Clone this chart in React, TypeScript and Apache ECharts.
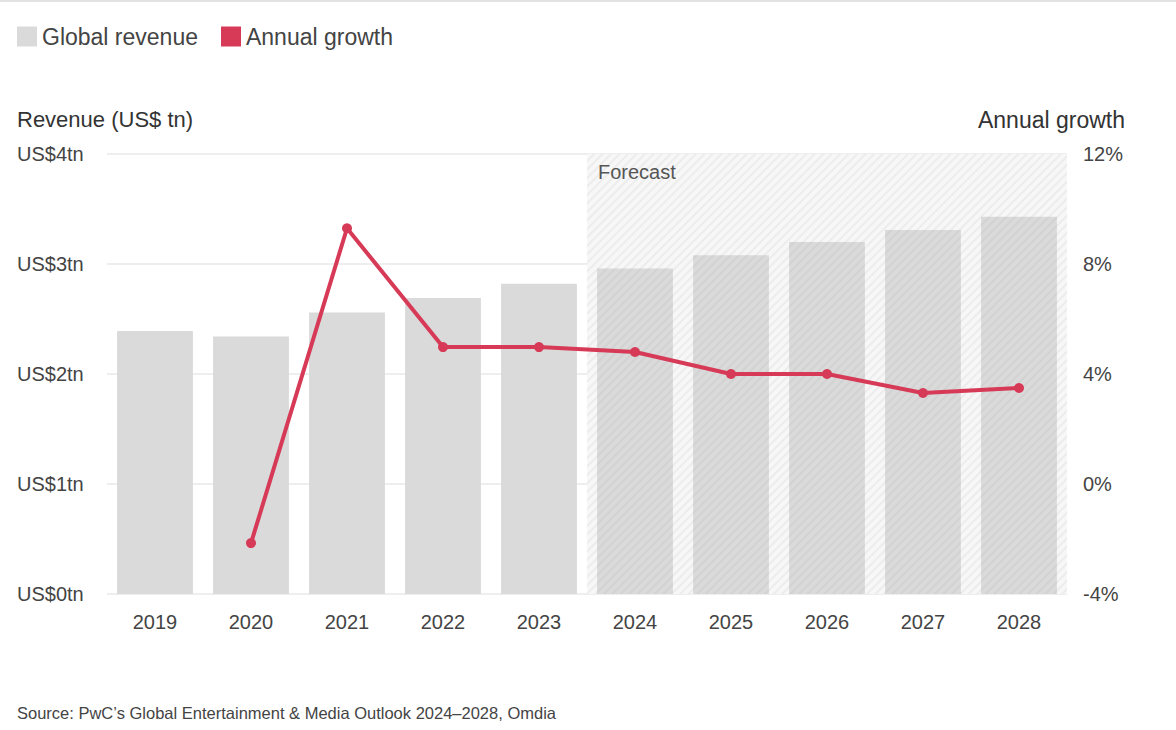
import React, { useEffect, useRef } from "react";
import * as echarts from "echarts";

const years = ["2019", "2020", "2021", "2022", "2023", "2024", "2025", "2026", "2027", "2028"];
const revenue = [2.39, 2.34, 2.56, 2.69, 2.82, 2.96, 3.08, 3.2, 3.31, 3.43];
const growth: (number | null)[] = [null, -2.15, 9.3, 4.98, 4.98, 4.8, 4.0, 4.0, 3.31, 3.49];
const forecastFlags = [false, false, false, false, false, true, true, true, true, true];
const leftTicks = ["US$0tn", "US$1tn", "US$2tn", "US$3tn", "US$4tn"];

const FONT = "'Liberation Sans', Arial, Helvetica, sans-serif";
const RED = "#d63a56";
const GREY = "#dadada";

export default function App() {
  const ref = useRef<HTMLDivElement>(null);
  useEffect(() => {
    document.body.style.margin = "0";
    const chart = echarts.init(ref.current!, null, { renderer: "svg" });
    const hatch = (color: string) => ({
      symbol: "rect",
      symbolSize: 1,
      color,
      dashArrayX: [[1, 0]],
      dashArrayY: [1.5, 3.5],
      rotation: -Math.PI / 4,
    });
    chart.setOption({
      animation: false,
      textStyle: { fontFamily: FONT },
      legend: {
        data: ["Global revenue", "Annual growth"],
        left: 17,
        top: 25,
        padding: 0,
        icon: "rect",
        itemWidth: 20,
        itemHeight: 20,
        itemGap: 23,
        textStyle: { fontSize: 23, color: "#444", fontFamily: FONT },
        selectedMode: false,
      },
      grid: { left: 107, right: 109, top: 154, bottom: 136 },
      xAxis: [
        {
          type: "category",
          data: years,
          axisLine: { show: false },
          axisTick: { show: false },
          axisLabel: { fontSize: 20, color: "#444", margin: 18, fontFamily: FONT },
        },
        {
          type: "category",
          data: years,
          show: false,
        },
      ],
      yAxis: [
        {
          type: "value",
          min: 0,
          max: 4,
          interval: 1,
          axisLine: { show: false },
          axisTick: { show: false },
          splitLine: { lineStyle: { color: "#e8e8e8", width: 1.5 } },
          axisLabel: {
            fontSize: 20,
            color: "#444",
            align: "left",
            margin: 90,
            fontFamily: FONT,
            formatter: (v: number) => leftTicks[Math.round(v)] ?? "",
          },
        },
        {
          type: "value",
          min: -4,
          max: 12,
          interval: 4,
          axisLine: { show: false },
          axisTick: { show: false },
          splitLine: { show: false },
          axisLabel: {
            fontSize: 20,
            color: "#444",
            margin: 16,
            align: "left",
            fontFamily: FONT,
            formatter: (v: number) => `${v}%`,
          },
        },
      ],
      series: [
        {
          name: "forecastShade",
          type: "bar",
          xAxisIndex: 1,
          yAxisIndex: 0,
          barCategoryGap: "0%",
          silent: true,
          z: 1,
          data: forecastFlags.map((f) => (f ? 4 : null)),
          itemStyle: { color: "#f7f7f7", decal: hatch("rgba(0,0,0,0.045)") },
        },
        {
          name: "Global revenue",
          type: "bar",
          xAxisIndex: 0,
          yAxisIndex: 0,
          barCategoryGap: "21%",
          z: 2,
          itemStyle: { color: GREY },
          data: revenue.map((v, i) =>
            forecastFlags[i]
              ? { value: v, itemStyle: { color: GREY, decal: hatch("rgba(0,0,0,0.035)") } }
              : { value: v }
          ),
        },
        {
          name: "Annual growth",
          type: "line",
          xAxisIndex: 0,
          yAxisIndex: 1,
          z: 5,
          data: growth,
          symbol: "circle",
          symbolSize: 10,
          connectNulls: false,
          lineStyle: { color: RED, width: 4 },
          itemStyle: { color: RED },
        },
      ],
      graphic: [
        { type: "rect", left: 0, top: 0, shape: { width: 1176, height: 2 }, style: { fill: "#e2e2e2" } },
        {
          type: "text",
          left: 17,
          top: 108,
          style: { text: "Revenue (US$ tn)", font: `22px ${FONT}`, fill: "#333" },
        },
        {
          type: "text",
          right: 51,
          top: 108,
          style: { text: "Annual growth", font: `23px ${FONT}`, fill: "#333" },
        },
        {
          type: "text",
          left: 598,
          top: 162,
          z: 10,
          style: { text: "Forecast", font: `20px ${FONT}`, fill: "#555" },
        },
        {
          type: "text",
          left: 17,
          top: 704,
          style: {
            text: "Source: PwC\u2019s Global Entertainment & Media Outlook 2024\u20132028, Omdia",
            font: `16.5px ${FONT}`,
            fill: "#444",
          },
        },
      ],
    });
    return () => chart.dispose();
  }, []);
  return <div ref={ref} style={{ width: 1176, height: 730 }} />;
}
